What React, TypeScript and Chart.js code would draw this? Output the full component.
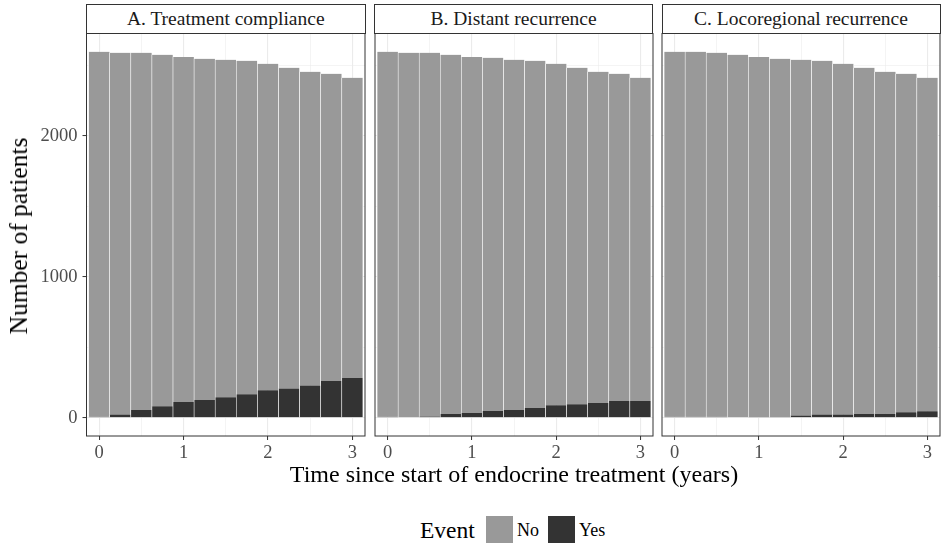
import React, { useEffect, useRef } from "react";
import { Chart, registerables } from "chart.js";
Chart.register(...registerables);

// ---- data ----
const times = [0, 0.25, 0.5, 0.75, 1, 1.25, 1.5, 1.75, 2, 2.25, 2.5, 2.75, 3];
const xTickValues = [0, 0.5, 1, 1.5, 2, 2.5, 3];
const yTickValues = [0, 500, 1000, 1500, 2000, 2500];

const noA = [2592, 2568, 2537, 2495, 2451, 2423, 2395, 2367, 2319, 2276, 2227, 2182, 2132];
const yesA = [6, 23, 54, 82, 111, 125, 146, 167, 194, 208, 229, 260, 281];

const noB = [2592, 2591, 2582, 2551, 2529, 2508, 2487, 2466, 2424, 2388, 2352, 2324, 2295];
const yesB = [6, 0, 9, 26, 33, 47, 54, 68, 89, 96, 104, 118, 118];

const noC = [2592, 2592, 2585, 2577, 2557, 2543, 2525, 2511, 2490, 2454, 2426, 2404, 2368];
const yesC = [6, 6, 6, 0, 5, 5, 16, 23, 23, 30, 30, 38, 45];

const panelTitles = ["A. Treatment compliance", "B. Distant recurrence", "C. Locoregional recurrence"];
const legendLabels = ["No", "Yes"];
const legendTitle = "Event";
const xTitle = "Time since start of endocrine treatment (years)";
const yTitle = "Number of patients";

// ---- style ----
const FONT = "'Liberation Serif', 'DejaVu Serif', serif";
const COLOR_NO = "#999999";
const COLOR_YES = "#333333";
const GRID = "#ebebeb";
const FRAME = "#333333";
const TICK_TEXT = "#4d4d4d";

const PANEL_TOP = 33.5;
const PANEL_BOTTOM = 436;
const CANVAS_TOP = 30;
const CANVAS_BOTTOM = 470;
const panels = [
  { left: 86.5, right: 365 },
  { left: 374.5, right: 652.5 },
  { left: 662, right: 940 },
];

const frame = {
  id: "frame",
  afterDraw(chart: any) {
    const { ctx, chartArea } = chart;
    ctx.save();
    ctx.strokeStyle = FRAME;
    ctx.lineWidth = 1;
    ctx.strokeRect(chartArea.left, chartArea.top, chartArea.right - chartArea.left, chartArea.bottom - chartArea.top);
    ctx.restore();
  },
};

const barBorder = { left: 0.6, right: 0.6, top: 0, bottom: 0 };

function Panel({ idx, no, yes }: { idx: number; no: number[]; yes: number[] }) {
  const ref = useRef<HTMLCanvasElement>(null);
  const p = panels[idx];
  const showY = idx === 0;
  const canvasLeft = showY ? 0 : p.left - 2;
  const width = p.right + 2 - canvasLeft;
  const height = CANVAS_BOTTOM - CANVAS_TOP;

  useEffect(() => {
    const chart = new Chart(ref.current!, {
      type: "bar",
      data: {
        datasets: [
          {
            label: legendLabels[1],
            data: times.map((t, i) => ({ x: t, y: yes[i] })),
            backgroundColor: COLOR_YES,
            borderColor: "#ffffff",
            borderWidth: barBorder,
            stack: "s",
          },
          {
            label: legendLabels[0],
            data: times.map((t, i) => ({ x: t, y: no[i] })),
            backgroundColor: COLOR_NO,
            borderColor: "#ffffff",
            borderWidth: barBorder,
            stack: "s",
          },
        ],
      },
      options: {
        animation: false,
        responsive: false,
        maintainAspectRatio: false,
        devicePixelRatio: 1,
        layout: { padding: { top: PANEL_TOP - CANVAS_TOP, right: 2, bottom: 0, left: 0 } },
        plugins: { legend: { display: false }, tooltip: { enabled: false } },
        datasets: { bar: { barPercentage: 1, categoryPercentage: 1 } },
        scales: {
          x: {
            type: "linear",
            stacked: true,
            offset: false,
            min: -0.15,
            max: 3.15,
            afterBuildTicks: (s: any) => {
              s.ticks = xTickValues.map((v) => ({ value: v }));
            },
            afterFit: (s: any) => {
              s.height = CANVAS_BOTTOM - PANEL_BOTTOM;
              s.paddingLeft = 0;
              s.paddingRight = 0;
              s.paddingTop = 0;
              s.paddingBottom = 0;
            },
            border: { display: false },
            grid: {
              offset: false,
              color: GRID,
              lineWidth: (c: any) => (Number.isInteger(c.tick?.value) ? 1.1 : 0.55),
              tickColor: (c: any) => (Number.isInteger(c.tick?.value) ? FRAME : "rgba(0,0,0,0)"),
              tickLength: 4,
              tickWidth: 1,
            },
            ticks: {
              autoSkip: false,
              maxRotation: 0,
              padding: 2,
              color: TICK_TEXT,
              font: { family: FONT, size: 18.5 },
              callback: (v: any) => (Number.isInteger(v) ? String(v) : ""),
            },
          },
          y: {
            type: "linear",
            stacked: true,
            min: -130,
            max: 2728,
            afterBuildTicks: (s: any) => {
              s.ticks = yTickValues.map((v) => ({ value: v }));
            },
            afterFit: (s: any) => {
              s.width = p.left - canvasLeft;
              s.paddingLeft = 0;
              s.paddingRight = 0;
              s.paddingTop = 0;
              s.paddingBottom = 0;
            },
            border: { display: false },
            grid: {
              offset: false,
              color: GRID,
              lineWidth: (c: any) => (c.tick && c.tick.value % 1000 === 0 ? 1.1 : 0.55),
              tickColor: (c: any) => (showY && c.tick && c.tick.value % 1000 === 0 ? FRAME : "rgba(0,0,0,0)"),
              drawTicks: showY,
              tickLength: 4,
              tickWidth: 1,
            },
            ticks: {
              display: showY,
              autoSkip: false,
              padding: 5,
              color: TICK_TEXT,
              font: { family: FONT, size: 18.5 },
              callback: (v: any) => (v % 1000 === 0 ? String(v) : ""),
            },
          },
        },
      } as any,
      plugins: [frame],
    });
    return () => chart.destroy();
  }, []);

  return (
    <>
      <canvas
        ref={ref}
        width={width}
        height={height}
        style={{ position: "absolute", left: canvasLeft, top: CANVAS_TOP, width, height }}
      />
      <div
        style={{
          position: "absolute",
          left: p.left - 0.5,
          top: 3.5,
          width: p.right - p.left + 1,
          height: PANEL_TOP - 3.5 + 0.5,
          boxSizing: "border-box",
          border: `1px solid ${FRAME}`,
          background: "#ffffff",
          font: `19.5px ${FONT}`,
          color: "#1a1a1a",
          display: "flex",
          alignItems: "center",
          justifyContent: "center",
          whiteSpace: "nowrap",
        }}
      >
        {panelTitles[idx]}
      </div>
    </>
  );
}

export default function App() {
  return (
    <div style={{ position: "absolute", left: 0, top: 0, width: 943, height: 545, background: "#fff", overflow: "hidden" }}>
      <Panel idx={0} no={noA} yes={yesA} />
      <Panel idx={1} no={noB} yes={yesB} />
      <Panel idx={2} no={noC} yes={yesC} />
      <div
        style={{
          position: "absolute",
          left: 19,
          top: 236,
          transform: "translate(-50%, -50%) rotate(-90deg)",
          font: `25.5px ${FONT}`,
          color: "#000",
          whiteSpace: "nowrap",
        }}
      >
        {yTitle}
      </div>
      <div
        style={{
          position: "absolute",
          left: 514,
          top: 474,
          transform: "translate(-50%, -50%)",
          font: `24px ${FONT}`,
          color: "#000",
          whiteSpace: "nowrap",
        }}
      >
        {xTitle}
      </div>
      <div style={{ position: "absolute", left: 420, top: 529.5, transform: "translateY(-50%)", font: `23.5px ${FONT}`, color: "#000", whiteSpace: "nowrap" }}>
        {legendTitle}
      </div>
      <div style={{ position: "absolute", left: 486, top: 516, width: 27, height: 27, background: COLOR_NO }} />
      <div style={{ position: "absolute", left: 517, top: 529.5, transform: "translateY(-50%)", font: `18px ${FONT}`, color: "#000" }}>
        {legendLabels[0]}
      </div>
      <div style={{ position: "absolute", left: 548, top: 516, width: 27, height: 27, background: COLOR_YES }} />
      <div style={{ position: "absolute", left: 579, top: 529.5, transform: "translateY(-50%)", font: `18px ${FONT}`, color: "#000" }}>
        {legendLabels[1]}
      </div>
    </div>
  );
}
